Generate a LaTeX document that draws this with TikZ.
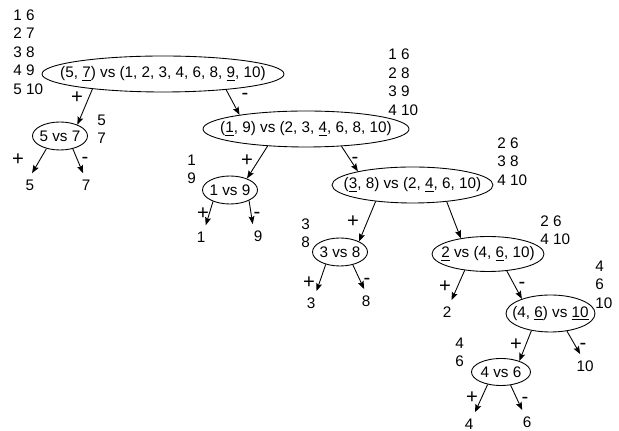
\documentclass[tikz,border=0pt]{standalone}
\usepackage{fontspec}
\setmainfont{Liberation Sans}
\usetikzlibrary{shapes.geometric, arrows.meta}

\newcommand{\grp}[1]{\begin{tabular}[t]{@{}l@{}}#1\end{tabular}}
\newcommand{\cmptxt}[1]{\makebox[0pt]{#1}}

\begin{document}
\begin{tikzpicture}[x=0.02cm, y=-0.02cm,
    every node/.style={font=\fontsize{8.7}{10.53}\selectfont},
    cmp/.style 2 args={ellipse, draw, line width=0.5pt, inner sep=0pt,
        minimum width=#1*0.02cm, minimum height=#2*0.02cm},
    leaf/.style={inner sep=3.5pt},
    grp/.style={anchor=base west, inner sep=0pt},
    sgn/.style={inner sep=0pt, font=\fontsize{11.5}{13}\selectfont},
    arr/.style={line width=0.5pt, -{Stealth[length=4.5pt, width=3.4pt, inset=0.8pt]}}]
    \useasboundingbox (0,0) rectangle (619,431);

    % comparisons
    \node[cmp={242}{36}] (root) at (163,74) {\cmptxt{(5, \underline{7}) vs (1, 2, 3, 4, 6, 8, \underline{9}, 10)}};
    \node[cmp={55}{28}] (n57) at (60,136) {\cmptxt{5 vs 7}};
    \node[cmp={206}{36}] (n19) at (306,129) {\cmptxt{(\underline{1}, 9) vs (2, 3, \underline{4}, 6, 8, 10)}};
    \node[cmp={55}{28}] (n1v9) at (230,190) {\cmptxt{1 vs 9}};
    \node[cmp={161}{36}] (n38) at (412.5,185) {\cmptxt{(\underline{3}, 8) vs (2, \underline{4}, 6, 10)}};
    \node[cmp={55}{28}] (n3v8) at (340,252) {\cmptxt{3 vs 8}};
    \node[cmp={112}{35}] (n2v) at (488,254) {\cmptxt{\underline{2} vs (4, \underline{6}, 10)}};
    \node[cmp={89}{37}] (n46) at (550.5,313.5) {\cmptxt{(4, \underline{6}) vs \underline{10}}};
    \node[cmp={59}{27}] (n4v6) at (501,372) {\cmptxt{4 vs 6}};

    % leaves
    \node[leaf] (l5) at (30,185) {5};
    \node[leaf] (l7) at (86,185) {7};
    \node[leaf] (l1) at (201,237) {1};
    \node[leaf] (l9) at (258,236) {9};
    \node[leaf] (l3) at (311,303) {3};
    \node[leaf] (l8) at (366,301) {8};
    \node[leaf] (l2) at (447,312) {2};
    \node[leaf] (l10) at (585,366) {10};
    \node[leaf] (l4) at (469,424) {4};
    \node[leaf] (l6) at (527,422) {6};

    % pairings beside the tests
    \node[grp] (g0) at (13,20.4) {\grp{1 6\\2 7\\3 8\\4 9\\5 10}};
    \node[grp] (g1) at (388,60) {\grp{1 6\\2 8\\3 9\\4 10}};
    \node[grp] (g2) at (497,148.4) {\grp{2 6\\3 8\\4 10}};
    \node[grp] (g3) at (540,226.4) {\grp{2 6\\4 10}};
    \node[grp] (g4) at (595,271.4) {\grp{4\\6\\10}};
    \node[grp] (g57) at (97,125.4) {\grp{5\\7}};
    \node[grp] (g19) at (187,165.4) {\grp{1\\9}};
    \node[grp] (g38) at (301,229.4) {\grp{3\\8}};
    \node[grp] (g46) at (455,348.4) {\grp{4\\6}};

    % branch signs
    \node[sgn] (p0) at (77,98) {+};
    \node[sgn] (m0) at (245,96) {-};
    \node[sgn] (p57) at (18,160) {+};
    \node[sgn] (m57) at (85,160) {-};
    \node[sgn] (p19) at (247,161) {+};
    \node[sgn] (m19) at (355,160) {-};
    \node[sgn] (p1v9) at (203,214) {+};
    \node[sgn] (m1v9) at (257,215) {-};
    \node[sgn] (p38) at (353,222) {+};
    \node[sgn] (p3v8) at (309,283) {+};
    \node[sgn] (m3v8) at (367,281) {-};
    \node[sgn] (p2v) at (445,287) {+};
    \node[sgn] (m2v) at (522,285) {-};
    \node[sgn] (p46) at (516,345) {+};
    \node[sgn] (m46) at (583,346) {-};
    \node[sgn] (p4v6) at (472,398) {+};
    \node[sgn] (m4v6) at (525,400) {-};

    % branches
    \draw[arr] (root.192) -- (n57.33);
    \draw[arr] (root.346) -- (n19.168);
    \draw[arr] (n57.223) -- (l5.80);
    \draw[arr] (n57.315) -- (l7.104);
    \draw[arr] (n19.204) -- (n1v9.34);
    \draw[arr] (n19.334) -- (n38.166);
    \draw[arr] (n1v9.214) -- (l1.68);
    \draw[arr] (n1v9.331) -- (l9.114);
    \draw[arr] (n38.204.5) -- (n3v8.29);
    \draw[arr] (n38.334.4) -- (n2v.150);
    \draw[arr] (n3v8.221) -- (l3.65);
    \draw[arr] (n3v8.315) -- (l8.99);
    \draw[arr] (n2v.215) -- (l2.69);
    \draw[arr] (n2v.318) -- (n46.153);
    \draw[arr] (n46.222) -- (n4v6.31);
    \draw[arr] (n46.313) -- (l10.112);
    \draw[arr] (n4v6.223) -- (l4.63);
    \draw[arr] (n4v6.306) -- (l6.112);
\end{tikzpicture}
\end{document}
